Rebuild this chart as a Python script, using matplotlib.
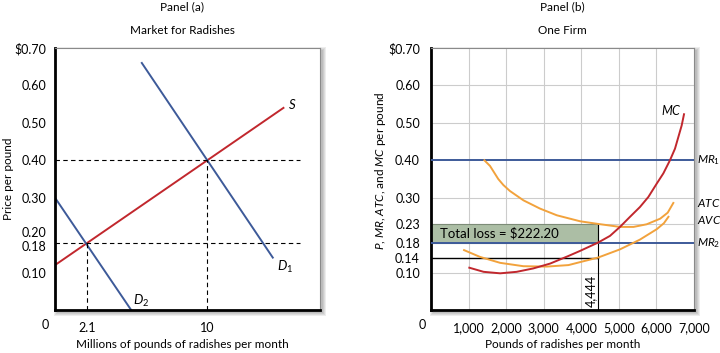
import matplotlib
matplotlib.use("Agg")
import matplotlib.pyplot as plt
from matplotlib.patches import Rectangle
from matplotlib.transforms import ScaledTranslation, blended_transform_factory

plt.rcParams['font.family'] = ['Lato', 'DejaVu Sans']
plt.rcParams['font.size'] = 8.5
plt.rcParams['mathtext.fontset'] = 'custom'
plt.rcParams['mathtext.rm'] = 'Lato'
plt.rcParams['mathtext.it'] = 'Lato:italic'

BLUE = '#3d5a99'
RED = '#c1272d'
ORANGE = '#f2a23c'
GRID = '#cccccc'

# ---- Panel (a): market for radishes ----
supply_q = [0, 15.0]
supply_p = [0.12, 0.54]
d1_q = [5.7, 14.3]
d1_p = [0.66, 0.14]
d2_q = [0, 5.0]
d2_p = [0.30, 0.0]
eq_q = [2.1, 10]
eq_p = [0.18, 0.40]
a_yticks = [0.10, 0.18, 0.20, 0.30, 0.40, 0.50, 0.60, 0.70]
a_ylabels = ['0.10', '0.18', '0.20', '0.30', '0.40', '0.50', '0.60', r'\$0.70']
a_xticks = [2.1, 10]
a_xlabels = ['2.1', '10']

# ---- Panel (b): one firm ----
mc_q = [1020, 1400, 1840, 2280, 2720, 3170, 3650, 3970, 4444, 4764, 5030, 5297, 5560,
        5785, 6010, 6184, 6360, 6494, 6583, 6672, 6734]
mc_p = [0.113, 0.102, 0.098, 0.102, 0.111, 0.124, 0.144, 0.158, 0.18, 0.198, 0.222, 0.249,
        0.275, 0.302, 0.338, 0.365, 0.40, 0.431, 0.462, 0.493, 0.523]
atc_q = [1420, 1570, 1790, 1925, 2100, 2460, 2900, 3350, 3660, 3970, 4444, 5030, 5390,
         5740, 6100, 6300, 6450]
atc_p = [0.40, 0.385, 0.350, 0.334, 0.318, 0.293, 0.271, 0.253, 0.245, 0.237, 0.23, 0.222,
         0.222, 0.229, 0.244, 0.260, 0.286]
avc_q = [880, 1300, 1840, 2460, 3080, 3660, 3970, 4444, 5030, 5560, 6010, 6200, 6320]
avc_p = [0.16, 0.142, 0.126, 0.117, 0.116, 0.12, 0.128, 0.14, 0.162, 0.188, 0.216, 0.232, 0.249]
mr1 = 0.40
mr2 = 0.18
loss_q = 4444
loss_atc = 0.23
loss_avc = 0.14
b_yticks = [0.10, 0.14, 0.18, 0.23, 0.30, 0.40, 0.50, 0.60, 0.70]
b_ylabels = ['0.10', '0.14', '0.18', '0.23', '0.30', '0.40', '0.50', '0.60', r'\$0.70']
b_xticks = [1000, 2000, 3000, 4000, 5000, 6000, 7000]
b_xlabels = ['1,000', '2,000', '3,000', '4,000', '5,000', '6,000', '7,000']

W, H = 720, 353
fig = plt.figure(figsize=(W / 100, H / 100), dpi=100)
ax1 = fig.add_axes([55 / W, 43 / H, 265 / W, 262 / H])
ax2 = fig.add_axes([431 / W, 43 / H, 263 / W, 262 / H])


def frame(ax):
    ax.set_facecolor('white')
    for s in ['left', 'bottom']:
        ax.spines[s].set_linewidth(2)
        ax.spines[s].set_color('black')
    for s in ['top', 'right']:
        ax.spines[s].set_linewidth(0.8)
        ax.spines[s].set_color('#8a8a8a')
    ax.tick_params(length=0, labelsize=9)
    # soft drop shadow behind the frame
    pos = ax.get_position()
    for k in range(1, 5):
        r = Rectangle((pos.x0 - (k - 2.5) / W, pos.y0 - (k + 1.5) / H),
                      pos.width + (2 * k - 1) / W, pos.height + (2 * k - 1) / H,
                      transform=fig.transFigure, facecolor='black', alpha=0.07,
                      edgecolor='none', zorder=-1)
        fig.add_artist(r)


# Panel (a)
frame(ax1)
ax1.set_xlim(0, 17.4)
ax1.set_ylim(0, 0.70)
ax1.plot(supply_q, supply_p, color=RED, lw=1.4)
ax1.plot(d1_q, d1_p, color=BLUE, lw=1.4)
ax1.plot(d2_q, d2_p, color=BLUE, lw=1.4)
for q, p in zip(eq_q, eq_p):
    ax1.plot([0, 16.1], [p, p], color='black', lw=0.8, ls=(0, (4, 3)))
    ax1.plot([q, q], [0, p], color='black', lw=0.8, ls=(0, (4, 3)))
ax1.set_yticks(a_yticks)
ax1.set_yticklabels(a_ylabels)
ax1.tick_params(axis='y', pad=6)
ax1.set_xticks(a_xticks)
ax1.set_xticklabels(a_xlabels)
ax1.tick_params(axis='x', pad=9)
labs = ax1.get_yticklabels()
labs[2].set_transform(labs[2].get_transform() + ScaledTranslation(0, 2 / 72, fig.dpi_scale_trans))
labs[1].set_transform(labs[1].get_transform() + ScaledTranslation(0, -2.5 / 72, fig.dpi_scale_trans))
ax1.text(15.3, 0.55, '$S$', fontsize=9.5, va='center', ha='left')
ax1.text(14.6, 0.115, '$D_1$', fontsize=9.5, va='center', ha='left')
ax1.text(5.1, 0.025, '$D_2$', fontsize=9.5, va='center', ha='left')
ax1.text(-10 / 265, -15 / 262, '0', transform=ax1.transAxes, ha='center', va='center', fontsize=9)
ax1.text(0.48, -35 / 262, 'Millions of pounds of radishes per month', transform=ax1.transAxes,
         ha='center', va='center')
ax1.text(-47 / 265, 0.5, 'Price per pound', transform=ax1.transAxes, rotation=90,
         ha='center', va='center')
ax1.text(0.48, 1 + 17 / 262, 'Market for Radishes', transform=ax1.transAxes, ha='center', va='center')
ax1.text(0.48, 1 + 41 / 262, 'Panel (a)', transform=ax1.transAxes, ha='center', va='center')

# Panel (b)
frame(ax2)
ax2.set_xlim(0, 7000)
ax2.set_ylim(0, 0.70)
for x in b_xticks[:-1]:
    ax2.axvline(x, color=GRID, lw=0.8, zorder=0)
for y in [0.10, 0.23, 0.30, 0.50, 0.60]:
    ax2.axhline(y, color=GRID, lw=0.8, zorder=0)
ax2.add_patch(Rectangle((0, mr2), loss_q, loss_atc - mr2, facecolor='#acbea5',
                        edgecolor='#7d8c78', lw=0.8, zorder=1))
ax2.plot([0, loss_q], [loss_avc, loss_avc], color='black', lw=1.0, zorder=2)
ax2.plot([loss_q, loss_q], [0, loss_atc], color='black', lw=0.8, zorder=2)
ax2.axhline(mr1, color=BLUE, lw=1.4, zorder=3)
ax2.axhline(mr2, color=BLUE, lw=1.4, zorder=3)
ax2.plot(atc_q, atc_p, color=ORANGE, lw=1.4, zorder=4, solid_joinstyle='round')
ax2.plot(avc_q, avc_p, color=ORANGE, lw=1.4, zorder=4, solid_joinstyle='round')
ax2.plot(mc_q, mc_p, color=RED, lw=1.4, zorder=5, solid_joinstyle='round')
ax2.set_yticks(b_yticks)
ax2.set_yticklabels(b_ylabels)
ax2.tick_params(axis='y', pad=8)
ax2.set_xticks(b_xticks)
ax2.set_xticklabels(b_xlabels)
ax2.tick_params(axis='x', pad=9)
ax2.text(240, 0.205, r'Total loss = \$222.20', fontsize=9.5, ha='left', va='center', zorder=6)
ax2.text(loss_q - 40, 0.008, '4,444', rotation=90, ha='right', va='bottom', zorder=6, fontsize=9)
ax2.text(6390, 0.535, '$MC$', fontsize=9, ha='center', va='center')
for y, s in [(mr1, '$MR_1$'), (mr2, '$MR_2$'), (0.285, '$ATC$'), (0.24, '$AVC$')]:
    ax2.text(1.01, y, s, transform=blended_transform_factory(ax2.transAxes, ax2.transData),
             fontsize=8.5, ha='left', va='center', clip_on=False)
ax2.text(-9 / 263, -15 / 262, '0', transform=ax2.transAxes, ha='center', va='center', fontsize=9)
ax2.text(0.5, -35 / 262, 'Pounds of radishes per month', transform=ax2.transAxes,
         ha='center', va='center')
ax2.text(-50 / 263, 0.53, '$P$, $MR$, $ATC$, and $MC$ per pound', transform=ax2.transAxes,
         rotation=90, ha='center', va='center')
ax2.text(0.5, 1 + 17 / 262, 'One Firm', transform=ax2.transAxes, ha='center', va='center')
ax2.text(0.5, 1 + 41 / 262, 'Panel (b)', transform=ax2.transAxes, ha='center', va='center')

fig.savefig('out.png', dpi=100)
